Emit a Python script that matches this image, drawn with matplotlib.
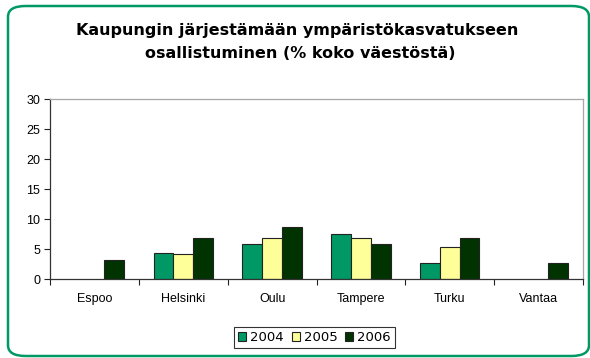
import numpy as np
import matplotlib.pyplot as plt
from matplotlib.patches import FancyBboxPatch

cities = ["Espoo", "Helsinki", "Oulu", "Tampere", "Turku", "Vantaa"]
years = ["2004", "2005", "2006"]
v2004 = [0.0, 4.4, 5.8, 7.5, 2.7, 0.0]
v2005 = [0.0, 4.1, 6.9, 6.9, 5.4, 0.0]
v2006 = [3.1, 6.9, 8.7, 5.8, 6.9, 2.6]
colors = ["#009966", "#FFFF99", "#003300"]

plt.rcParams['font.family'] = ['Liberation Sans', 'DejaVu Sans']

fig = plt.figure(figsize=(5.9, 3.58), dpi=100)

# rounded green frame around the whole chart
frame = FancyBboxPatch((8 / 590, 2 / 358), 581 / 590, 350 / 358,
                       boxstyle="round,pad=0,rounding_size=0.03",
                       transform=fig.transFigure, facecolor="none",
                       edgecolor="#009966", linewidth=1.8, clip_on=False)
fig.patches.append(frame)

ax = fig.add_axes([50 / 590, 1 - 279 / 358, 533 / 590, 180 / 358])

x = np.arange(len(cities))
w = 1 / 4.5
for i, (vals, c, yr) in enumerate(zip([v2004, v2005, v2006], colors, years)):
    xs = x + (i - 1) * w
    # skip empty values so no zero-height bars are drawn
    keep = [j for j, v in enumerate(vals) if v > 0]
    ax.bar(xs[keep], np.array(vals)[keep], width=w, color=c,
           edgecolor="#222222", linewidth=0.8, label=yr)

ax.set_xlim(-0.5, len(cities) - 0.5)
ax.set_ylim(0, 30)
ax.set_yticks(range(0, 31, 5))
ax.set_xticks(x)
ax.set_xticklabels(cities)
ax.set_xticks(np.arange(-0.5, len(cities), 1), minor=True)
ax.tick_params(axis="x", which="major", length=0, pad=10, labelsize=9)
ax.tick_params(axis="x", which="minor", length=4, width=0.8, color="#222222")
ax.tick_params(axis="y", length=4, width=0.8, color="#222222", labelsize=9, pad=3)
for s in ["left", "bottom"]:
    ax.spines[s].set_color("#333333")
    ax.spines[s].set_linewidth(0.9)
for s in ["top", "right"]:
    ax.spines[s].set_color("#A6A6A6")
    ax.spines[s].set_linewidth(0.9)

fig.text(297.5 / 590, 1 - 31 / 358, "Kaupungin järjestämään ympäristökasvatukseen",
         ha="center", va="center", fontsize=11.5, fontweight="bold",
         family="DejaVu Sans")
fig.text(300 / 590, 1 - 53 / 358, "osallistuminen (% koko väestöstä)",
         ha="center", va="center", fontsize=11.5, fontweight="bold",
         family="DejaVu Sans")

leg = fig.legend(loc="center", bbox_to_anchor=(314.5 / 590, 1 - 337.5 / 358),
                 ncol=3, frameon=True, fancybox=False,
                 prop={"family": "DejaVu Sans", "size": 9.5},
                 handlelength=0.6, handleheight=0.6, handletextpad=0.3,
                 columnspacing=0.6, borderpad=0.3, borderaxespad=0)
leg.get_frame().set_edgecolor("#000000")
leg.get_frame().set_linewidth(0.8)

fig.savefig("out.png", dpi=100)
